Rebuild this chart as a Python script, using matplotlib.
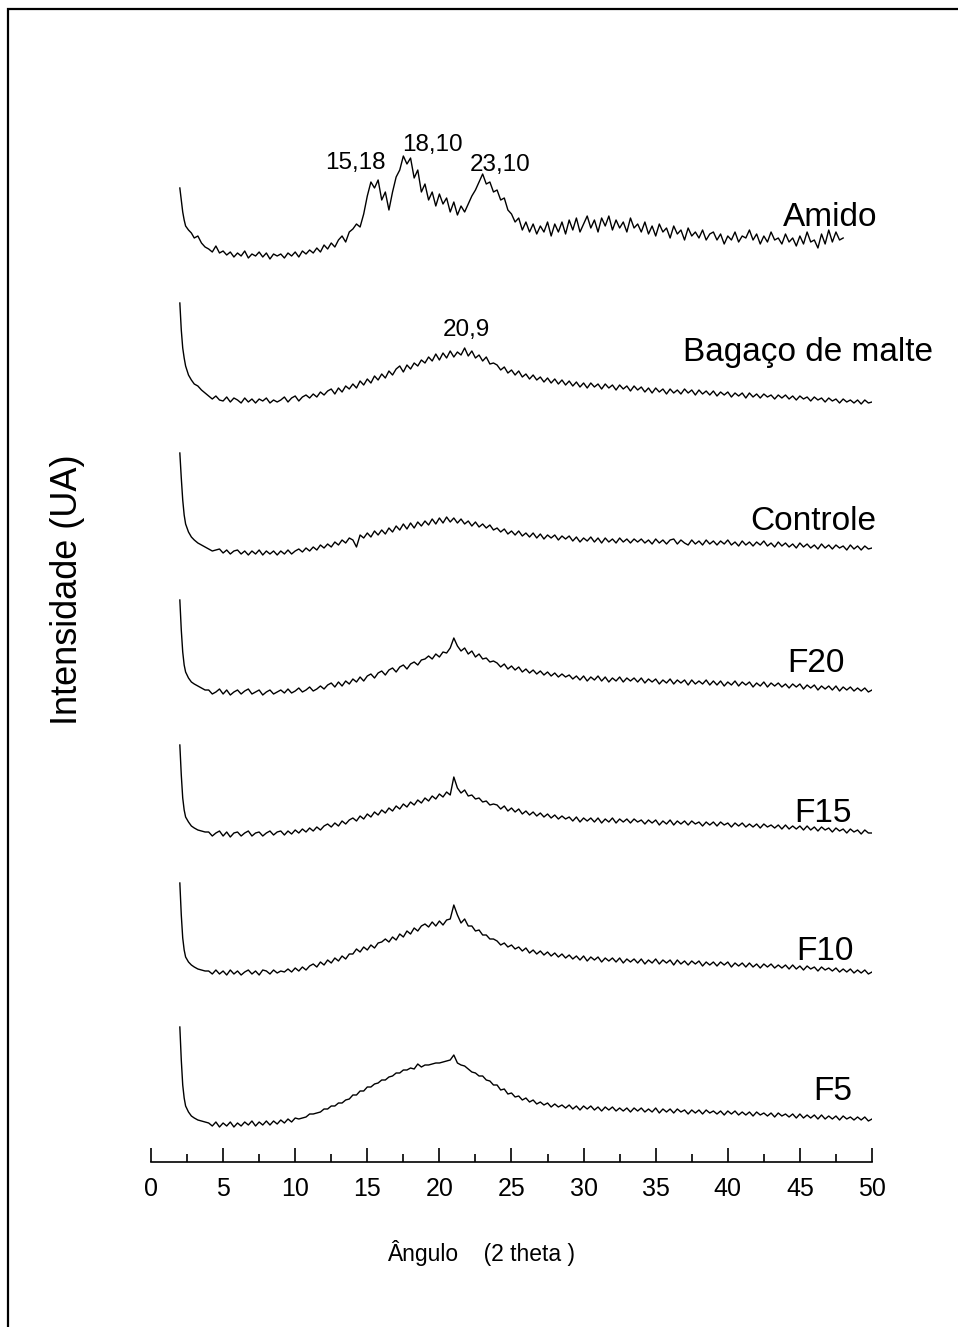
import numpy as np
import matplotlib
matplotlib.use("Agg")
import matplotlib.pyplot as plt
from matplotlib.patches import Rectangle

plt.rcParams["font.family"] = ["Liberation Sans", "DejaVu Sans"]

# 2-theta sampling: dense near the low-angle tail, 0.25 deg steps after 4 deg
theta_head = [2.0, 2.1, 2.2, 2.3, 2.4, 2.6, 2.8, 3.0, 3.25, 3.5, 3.75]
theta_step = 0.25
theta_body_start = 4.0

names = ["Amido", "Bagaço de malte", "Controle", "F20", "F15", "F10", "F5"]
offsets = [900, 750, 600, 460, 320, 180, 30]

# intensities (a.u.), head points first, then one row per 5 deg
amido = [74, 62, 50, 42, 36, 32, 29, 24, 26, 19, 15,
         13, 10, 16, 9, 11, 7, 10, 5, 9, 6, 11, 4, 8, 6, 10, 5, 9, 3, 8, 6,
         8, 4, 9, 6, 10, 5, 11, 8, 12, 9, 14, 10, 17, 13, 19, 15, 22, 26, 20, 30,
         33, 38, 35, 48, 66, 80, 74, 82, 62, 70, 52, 70, 85, 92, 106, 98, 104, 84, 92, 70,
         78, 62, 70, 56, 68, 58, 64, 50, 60, 47, 56, 50, 58, 66, 72, 80, 88, 78, 80, 70,
         72, 62, 64, 52, 48, 40, 44, 32, 40, 30, 38, 28, 36, 30, 40, 26, 38, 30, 40, 28,
         42, 32, 44, 30, 38, 46, 34, 42, 30, 44, 36, 46, 32, 42, 34, 40, 30, 44, 34, 38,
         30, 40, 28, 36, 26, 38, 30, 34, 24, 36, 28, 32, 22, 34, 26, 30, 24, 32, 22, 28,
         30, 22, 28, 18, 26, 22, 30, 20, 26, 24, 32, 22, 28, 18, 26, 20, 30, 22, 24, 18,
         28, 20, 24, 16, 26, 18, 30, 20, 22, 14, 28, 18, 32, 20, 30, 22, 24]

bagaco = [109, 82, 64, 54, 46, 37, 32, 28, 26, 22, 19,
          16, 13, 16, 12, 11, 15, 10, 14, 12, 9, 14, 10, 13, 9, 13, 11, 14, 9, 12, 10,
          12, 15, 10, 14, 16, 11, 15, 17, 14, 18, 15, 20, 17, 21, 23, 18, 24, 20, 26, 23,
          28, 24, 31, 27, 33, 29, 36, 32, 38, 34, 41, 37, 43, 46, 40, 47, 43, 49, 46, 52,
          49, 55, 51, 58, 52, 59, 54, 61, 55, 60, 57, 64, 56, 61, 54, 57, 51, 55, 48, 49,
          47, 42, 45, 39, 42, 37, 41, 35, 38, 33, 37, 32, 35, 30, 34, 29, 33, 28, 32, 27,
          31, 26, 30, 25, 29, 24, 29, 25, 28, 23, 28, 24, 27, 22, 27, 23, 26, 21, 26, 22,
          25, 20, 24, 19, 24, 20, 23, 18, 23, 19, 22, 18, 23, 19, 22, 17, 22, 18, 21, 17,
          21, 16, 20, 17, 20, 15, 19, 16, 19, 14, 19, 15, 18, 14, 18, 15, 17, 13, 17, 14,
          17, 13, 16, 12, 16, 13, 15, 11, 15, 12, 14, 10, 14, 11, 13, 9, 13, 10, 12, 9,
          12, 8, 12, 9, 10]

controle = [109, 84, 62, 47, 38, 30, 25, 22, 19, 17, 15,
            13, 11, 12, 13, 9, 12, 8, 11, 12, 8, 11, 7, 11, 8, 12, 7, 11, 8, 11, 7,
            11, 8, 12, 8, 11, 13, 10, 14, 11, 15, 12, 17, 14, 18, 15, 20, 17, 22, 19, 24,
            22, 15, 27, 24, 29, 25, 31, 27, 32, 28, 34, 30, 36, 32, 38, 33, 39, 34, 40, 36,
            41, 37, 43, 38, 44, 39, 45, 40, 44, 39, 43, 38, 41, 36, 40, 35, 38, 34, 37, 32,
            34, 30, 33, 28, 31, 27, 31, 26, 29, 25, 29, 24, 28, 23, 27, 24, 27, 22, 26, 23,
            26, 21, 25, 20, 24, 21, 25, 20, 24, 19, 24, 20, 23, 19, 24, 20, 23, 19, 23, 20,
            23, 19, 22, 18, 23, 19, 22, 18, 22, 23, 18, 22, 19, 17, 22, 18, 21, 17, 22, 18,
            21, 17, 21, 18, 22, 17, 20, 16, 21, 17, 20, 16, 20, 17, 21, 16, 19, 15, 20, 16,
            19, 15, 18, 14, 19, 15, 18, 14, 17, 13, 18, 14, 17, 13, 17, 14, 16, 12, 17, 13,
            16, 12, 16, 13, 14]

f20 = [102, 72, 50, 37, 30, 24, 20, 18, 16, 14, 12,
       12, 8, 10, 13, 8, 12, 7, 10, 12, 8, 11, 13, 8, 10, 12, 7, 10, 12, 8, 10,
       12, 9, 13, 9, 11, 14, 10, 12, 15, 11, 13, 16, 13, 17, 19, 15, 20, 16, 21, 18,
       23, 20, 25, 21, 26, 28, 24, 29, 31, 27, 32, 34, 30, 35, 37, 33, 38, 40, 37, 42,
       43, 46, 43, 48, 45, 50, 49, 54, 64, 56, 51, 54, 48, 51, 45, 48, 43, 44, 40, 41,
       39, 35, 38, 33, 36, 32, 35, 30, 33, 29, 32, 28, 31, 27, 30, 26, 29, 25, 28, 25,
       27, 23, 26, 22, 26, 21, 25, 22, 26, 21, 25, 20, 24, 21, 25, 20, 24, 21, 24, 20,
       24, 19, 23, 20, 23, 18, 22, 19, 23, 18, 22, 19, 22, 17, 22, 18, 21, 18, 22, 17,
       21, 17, 21, 16, 20, 17, 21, 16, 20, 17, 20, 15, 19, 16, 20, 15, 19, 16, 19, 15,
       18, 14, 18, 15, 18, 13, 17, 14, 17, 12, 16, 13, 16, 12, 16, 11, 15, 12, 15, 11,
       14, 11, 14, 10, 12]

f15 = [97, 67, 44, 32, 25, 20, 16, 14, 12, 11, 10,
       10, 6, 9, 11, 6, 10, 5, 9, 10, 6, 9, 11, 6, 9, 10, 6, 9, 11, 7, 10,
       11, 7, 11, 8, 12, 9, 13, 10, 14, 11, 15, 12, 16, 18, 15, 19, 16, 21, 18, 22,
       24, 21, 26, 23, 28, 25, 30, 27, 32, 29, 34, 31, 36, 33, 38, 35, 40, 37, 42, 39,
       44, 41, 46, 43, 48, 45, 50, 47, 65, 54, 49, 52, 46, 47, 43, 44, 40, 41, 37, 38,
       37, 33, 36, 31, 34, 30, 33, 28, 31, 27, 30, 26, 29, 25, 28, 24, 27, 23, 26, 23,
       25, 21, 25, 20, 24, 21, 24, 20, 24, 19, 23, 20, 24, 19, 23, 20, 23, 19, 23, 20,
       22, 18, 22, 19, 22, 17, 21, 18, 22, 17, 21, 18, 21, 17, 21, 18, 20, 16, 20, 17,
       20, 16, 20, 17, 19, 15, 19, 16, 19, 15, 18, 15, 18, 14, 18, 15, 17, 14, 17, 13,
       17, 13, 16, 13, 16, 12, 16, 12, 15, 11, 15, 12, 14, 10, 14, 11, 13, 9, 13, 10,
       12, 8, 12, 9, 9]

f10 = [99, 67, 44, 32, 25, 20, 17, 15, 13, 12, 11,
       11, 8, 12, 8, 11, 7, 12, 8, 11, 7, 10, 12, 8, 11, 7, 12, 11, 8, 12, 9,
       11, 10, 13, 10, 14, 11, 15, 12, 16, 18, 15, 20, 17, 22, 19, 24, 21, 26, 23, 28,
       28, 33, 30, 35, 32, 37, 34, 39, 40, 43, 40, 45, 42, 48, 45, 51, 48, 54, 51, 56,
       58, 55, 60, 56, 61, 57, 62, 63, 77, 67, 59, 63, 56, 56, 51, 52, 47, 47, 43, 43,
       41, 37, 39, 35, 37, 33, 35, 31, 34, 29, 32, 28, 31, 27, 30, 26, 29, 25, 28, 24,
       27, 23, 26, 22, 26, 21, 25, 22, 25, 20, 24, 21, 24, 20, 24, 19, 23, 20, 23, 19,
       23, 18, 22, 19, 23, 18, 22, 19, 22, 17, 22, 18, 21, 17, 21, 18, 21, 16, 20, 17,
       20, 16, 20, 17, 20, 15, 19, 16, 19, 15, 19, 15, 18, 14, 18, 15, 18, 14, 17, 14,
       17, 13, 17, 13, 16, 12, 16, 13, 15, 11, 15, 12, 14, 11, 14, 10, 13, 10, 13, 9,
       12, 9, 12, 8, 10]

f5 = [105, 72, 47, 34, 26, 20, 16, 14, 12, 11, 10,
      9, 6, 10, 5, 9, 6, 10, 5, 9, 6, 10, 7, 11, 6, 10, 7, 11, 7, 11, 8,
      12, 9, 13, 10, 14, 13, 14, 15, 18, 18, 19, 20, 23, 23, 26, 26, 29, 29, 32, 33,
      37, 37, 41, 41, 45, 45, 48, 49, 52, 52, 55, 56, 59, 59, 62, 62, 64, 63, 68, 65,
      67, 67, 68, 69, 69, 70, 71, 72, 77, 69, 67, 66, 63, 60, 59, 56, 56, 52, 51, 47,
      47, 42, 43, 38, 39, 35, 36, 32, 34, 30, 32, 28, 30, 27, 29, 25, 28, 25, 27, 24,
      27, 23, 26, 22, 26, 23, 26, 22, 25, 21, 25, 22, 25, 21, 24, 21, 24, 20, 24, 21,
      24, 20, 23, 20, 24, 19, 23, 20, 23, 19, 23, 20, 22, 18, 22, 19, 22, 18, 22, 19,
      21, 18, 21, 17, 21, 18, 21, 17, 20, 17, 20, 16, 20, 17, 19, 16, 19, 15, 19, 16,
      18, 15, 18, 14, 18, 14, 17, 14, 17, 13, 17, 13, 16, 13, 16, 12, 16, 13, 15, 12,
      15, 12, 15, 11, 13]

patterns = [amido, bagaco, controle, f20, f15, f10, f5]

peak_labels = ["15,18", "18,10", "23,10", "20,9"]


def theta_for(values):
    n_body = len(values) - len(theta_head)
    body = theta_body_start + theta_step * np.arange(n_body)
    return np.concatenate([theta_head, body])


fig = plt.figure(figsize=(9.58, 13.27), dpi=100)
ax = fig.add_axes([151 / 958, 1 - 1162 / 1327, 721 / 958, 1062 / 1327])

for vals, off in zip(patterns, offsets):
    x = theta_for(vals)
    ax.plot(x, np.asarray(vals) + off, color="black", lw=1.0)

# sample names at the right end of each trace
name_pos = [(50.4, 945), (54.2, 810), (50.3, 641), (48.1, 498),
            (48.6, 349), (48.75, 211), (48.6, 71)]
for name, (tx, ty) in zip(names, name_pos):
    ax.text(tx, ty, name, ha="right", va="center", fontsize=24, clip_on=False)

# crystalline peak positions
peak_pos = [(14.15, 999), (19.55, 1017), (24.2, 997), (21.9, 832)]
for lab, (tx, ty) in zip(peak_labels, peak_pos):
    ax.text(tx, ty, lab, ha="center", va="center", fontsize=17.5)

ax.set_xlim(0, 50)
ax.set_ylim(0, 1062)
ax.set_xticks(np.arange(0, 51, 5))
ax.set_xticks(np.arange(2.5, 50, 5), minor=True)
ax.tick_params(axis="x", which="major", direction="in", length=10, width=1.2,
               labelsize=18, pad=11)
ax.tick_params(axis="x", which="minor", direction="in", length=5.8, width=1.2)
ax.set_yticks([])
for side in ("left", "right", "top"):
    ax.spines[side].set_visible(False)
ax.spines["bottom"].set_linewidth(1.2)

ax.set_xlabel("Ângulo    (2 theta )", fontsize=16.5)
ax.xaxis.set_label_coords(0.458, -0.0857)
ax.xaxis.label.set_va("center")
ax.set_ylabel("Intensidade (UA)", fontsize=26)
ax.yaxis.set_label_coords(-0.1165, 0.5386)
ax.yaxis.label.set_va("center")

# outer frame, open to the right and bottom
fig.add_artist(Rectangle((8 / 958, -0.05), 1.2, 1.05 - 8.5 / 1327,
                         transform=fig.transFigure, fill=False,
                         edgecolor="black", lw=1.6))

fig.savefig("out.png", dpi=100)
